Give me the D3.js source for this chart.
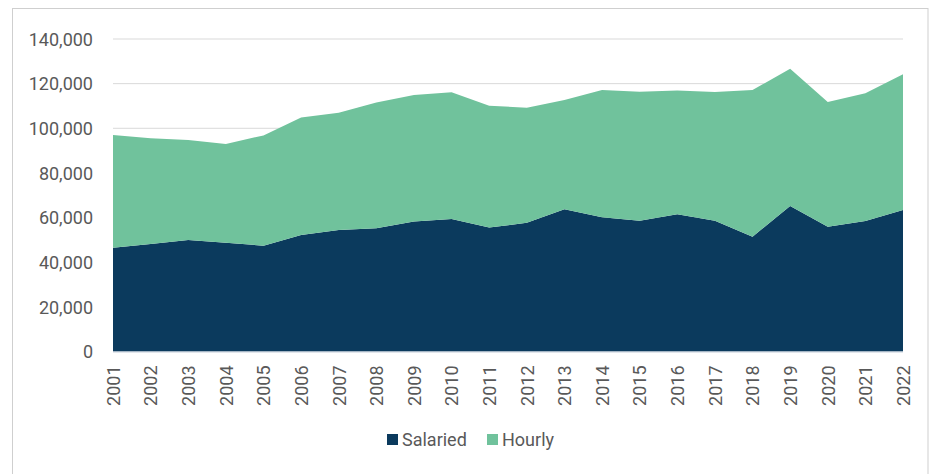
<!DOCTYPE html>
<html><head><meta charset="utf-8">
<script src="https://cdn.jsdelivr.net/npm/d3@7"></script>
<style>html,body{margin:0;padding:0;background:#fff;}svg{display:block;}</style>
</head><body>
<svg id="chart" width="933" height="474"></svg>
<script>
(function(){
const years = ["2001","2002","2003","2004","2005","2006","2007","2008","2009","2010","2011","2012","2013","2014","2015","2016","2017","2018","2019","2020","2021","2022"];
const salaried = [46500,48200,50000,48700,47400,52200,54400,55200,58200,59400,55500,57700,63700,60100,58600,61500,58600,51400,65200,55900,58500,63400];
const hourly = [50500,47300,44800,44300,49400,52600,52600,56400,56700,56700,54600,51500,49000,57100,57800,55400,57700,65700,61500,55900,57200,60800];
const yTicks = [0,20000,40000,60000,80000,100000,120000,140000];
const seriesNames = ["Salaried","Hourly"];
const colors = ["#0b3a5d","#70c29c"];

const svg = d3.select("#chart");
const font = "Roboto, 'Noto Sans', sans-serif";
const textColor = "#595959";

svg.append("rect").attr("x",12.5).attr("y",8.5).attr("width",915.5).attr("height",470)
  .attr("fill","none").attr("stroke","#cfcfcf").attr("stroke-width",1);

const mLeft = 113, mRight = 903, mTop = 39, mBottom = 351.5;
const x = d3.scalePoint().domain(years).range([mLeft,mRight]);
const y = d3.scaleLinear().domain([0,140000]).range([mBottom,mTop]);

svg.append("g").selectAll("line").data(yTicks.filter(d=>d>0)).join("line")
  .attr("x1",mLeft).attr("x2",mRight).attr("y1",d=>y(d)).attr("y2",d=>y(d))
  .attr("stroke","#d9d9d9").attr("stroke-width",1);

const table = years.map((yr,i)=>({year:yr, Salaried:salaried[i], Hourly:hourly[i]}));
const stack = d3.stack().keys(seriesNames)(table);
const area = d3.area().x(d=>x(d.data.year)).y0(d=>y(d[0])).y1(d=>y(d[1]));
svg.append("g").selectAll("path").data(stack).join("path")
  .attr("d",area).attr("fill",(d,i)=>colors[i]);

svg.append("line").attr("x1",mLeft).attr("x2",mRight).attr("y1",mBottom+0.5).attr("y2",mBottom+0.5)
  .attr("stroke","#c5ceda").attr("stroke-width",1);

const yAxis = d3.axisLeft(y).tickValues(yTicks).tickSize(0).tickPadding(0)
  .tickFormat(d3.format(","));
const gy = svg.append("g").attr("transform",`translate(${mLeft-20},0)`).call(yAxis);
gy.select(".domain").remove();
gy.selectAll("text").attr("font-family",font).attr("font-size",18).attr("fill",textColor).attr("dy","0.35em");

const xAxis = d3.axisBottom(x).tickSize(0).tickPadding(0);
const gx = svg.append("g").attr("transform",`translate(0,${mBottom})`).call(xAxis);
gx.select(".domain").remove();
gx.selectAll("text").attr("font-family",font).attr("font-size",18).attr("fill",textColor)
  .attr("text-anchor","end").attr("transform","rotate(-90)")
  .attr("x",-14).attr("y",0).attr("dy","0.35em");

const legend = svg.append("g");
const legX = [387, 487];
seriesNames.forEach((n,i)=>{
  legend.append("rect").attr("x",legX[i]).attr("y",434).attr("width",11).attr("height",11).attr("fill",colors[i]);
  legend.append("text").attr("x",legX[i]+15).attr("y",446).text(n)
    .attr("font-family",font).attr("font-size",18).attr("fill",textColor);
});
})();
</script>
</body></html>
